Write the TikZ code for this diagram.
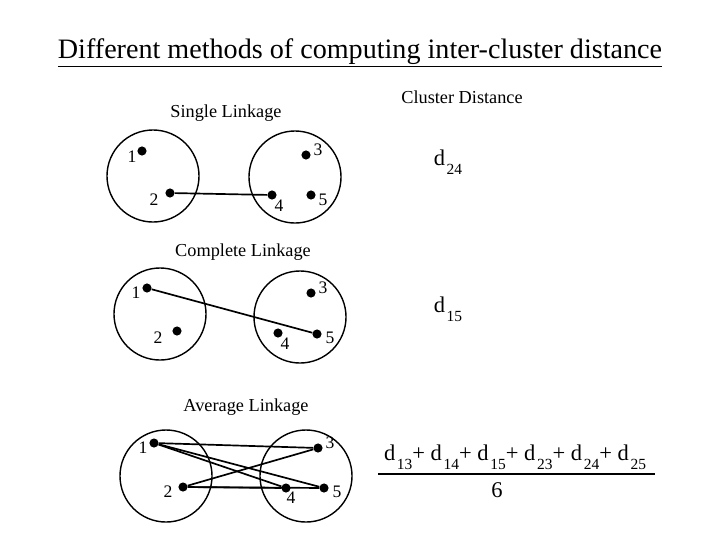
\documentclass[tikz,border=0pt]{standalone}
\usepackage{fontspec}
\setmainfont{Liberation Serif}
\usepackage{tikz}
\usetikzlibrary{positioning}

% distance symbol with lowered index
\newcommand{\dsub}[1]{d\kern1.2pt\raisebox{-0.9ex}{\fontsize{11}{11}\selectfont #1}}

\begin{document}
\begin{tikzpicture}[x=0.025cm, y=-0.025cm,
    every node/.style={font=\fontsize{12}{13}\selectfont},
    clus/.style={
        draw,
        circle,
        line width=1pt,
        minimum size=2.3cm,
        inner sep=0pt
    },
    pt/.style={
        fill,
        circle,
        inner sep=0pt,
        minimum size=6.5pt
    },
    num/.style={inner sep=0pt, font=\fontsize{12.5}{13}\selectfont},
    head/.style={inner sep=0pt, font=\fontsize{13}{14}\selectfont},
    link/.style={line width=1.2pt},
    dist/.style={inner sep=0pt, font=\fontsize{16}{17}\selectfont}
]
\useasboundingbox (0,0) rectangle (720,540);

\node[inner sep=0pt, font=\fontsize{20}{22}\selectfont] (title) at (360,53)
    {\underline{Different methods of computing inter-cluster distance}};

% single linkage
\node[head] (shead) at (226,113) {Single Linkage};
\node[clus] (sl) at (153,176) {};
\node[clus] (sr) at (295,177) {};
\node[pt] (s1) at (142,151) {};
\node[pt] (s2) at (170,193) {};
\node[pt] (s3) at (306,155) {};
\node[pt] (s4) at (272,195) {};
\node[pt] (s5) at (311,195) {};
\node[num] at (132,157) {1};
\node[num] at (154,200) {2};
\node[num] at (318,150) {3};
\node[num] at (279,206) {4};
\node[num] at (323,200) {5};
\draw[link] (s2) -- (s4);

% complete linkage
\node[head] (chead) at (243,252) {Complete Linkage};
\node[clus] (cl) at (160,314) {};
\node[clus] (cr) at (300,317) {};
\node[pt] (c1) at (147,288) {};
\node[pt] (c2) at (177,331) {};
\node[pt] (c3) at (311,293) {};
\node[pt] (c4) at (278,333) {};
\node[pt] (c5) at (317,334) {};
\node[num] at (136,293) {1};
\node[num] at (158,338) {2};
\node[num] at (323,288) {3};
\node[num] at (285,344) {4};
\node[num] at (330,338) {5};
\draw[link] (c1) -- (c5);

% average linkage
\node[head] (ahead) at (246,407) {Average Linkage};
\node[clus] (al) at (166,476) {};
\node[clus] (ar) at (306,476) {};
\node[pt] (a1) at (154,443) {};
\node[pt] (a2) at (183,487) {};
\node[pt] (a3) at (318,448) {};
\node[pt] (a4) at (286,488) {};
\node[pt] (a5) at (324,488) {};
\node[num] at (143,448) {1};
\node[num] at (168,492) {2};
\node[num] at (330,443) {3};
\node[num] at (291,498) {4};
\node[num] at (337,492) {5};
\foreach \i in {1,2} {
    \foreach \j in {3,4,5} {
        \draw[link] (a\i) -- (a\j);
    }
}

% distances
\node[head] (cdist) at (462,97) {Cluster Distance};
\node[dist] (d24) at (448,162) {\dsub{24}};
\node[dist] (d15) at (448,309) {\dsub{15}};
\node[dist] (dsum) at (515,457)
    {\dsub{13}+ \dsub{14}+ \dsub{15}+ \dsub{23}+ \dsub{24}+ \dsub{25}};
\coordinate (barl) at (378,474);
\coordinate (barr) at (655,474);
\draw[link] (barl) -- (barr);
\node[dist] (six) at (497,490) {6};

\end{tikzpicture}
\end{document}
